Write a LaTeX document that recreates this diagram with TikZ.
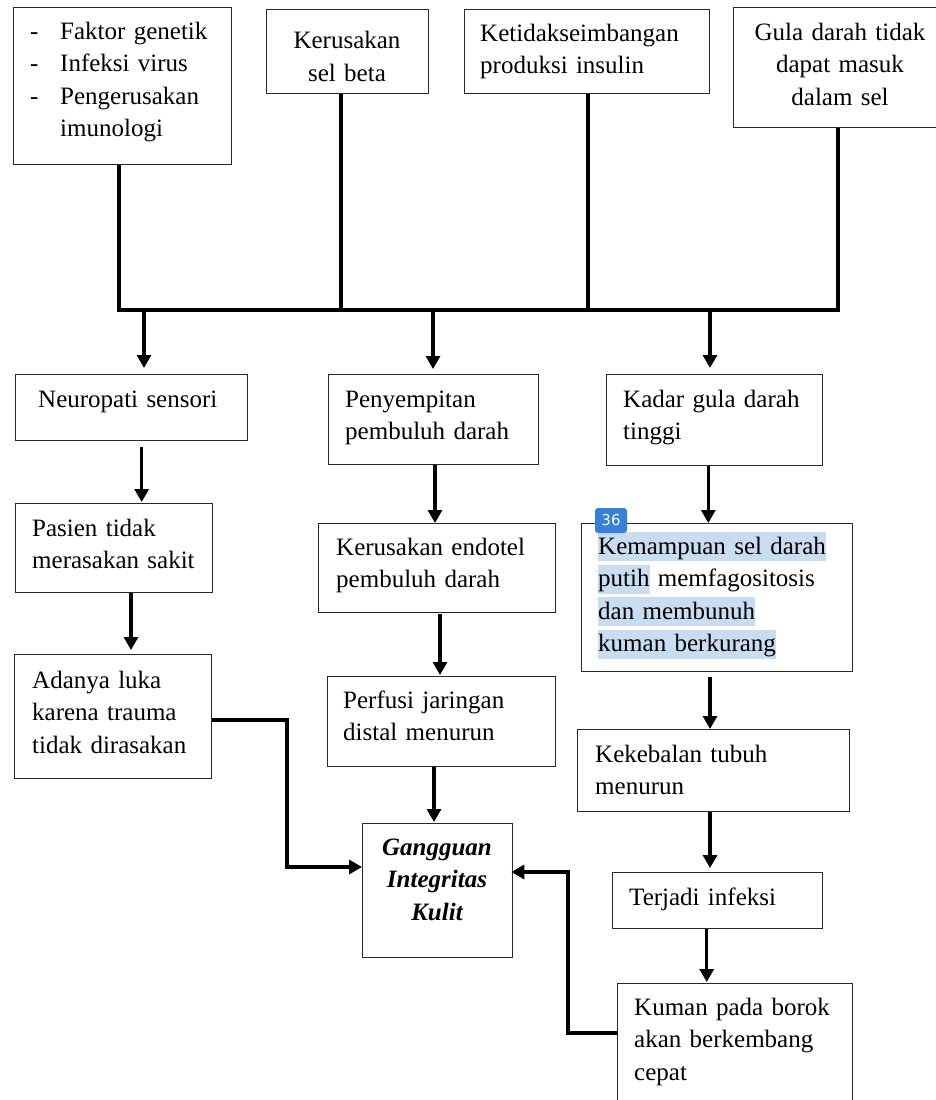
\documentclass[tikz,border=0pt]{standalone}
\usepackage{fontspec}
\setmainfont{Liberation Serif}
\newfontfamily\badgefont{DejaVu Sans}
\usetikzlibrary{arrows.meta,calc}
\definecolor{hl}{RGB}{200,221,242}
\definecolor{badgeblue}{RGB}{52,128,219}
\definecolor{boxline}{RGB}{40,40,40}
\newcommand\dgfont{\fontsize{25pt}{32.5pt}\selectfont}
\newcommand\hlb[1]{{\setlength\fboxsep{0pt}\colorbox{hl}{\rule[-7pt]{0pt}{29pt}#1}}}
\begin{document}
\begin{tikzpicture}[x=1pt,y=-1pt,
  box/.style={draw=boxline, line width=1.3pt, inner sep=0pt, anchor=north west},
  ltxt/.style={font=\dgfont, inner sep=0pt, anchor=base west, text width=280pt, align=left},
  ctxt/.style={font=\dgfont, inner sep=0pt, anchor=base, text width=220pt, align=center},
  conn/.style={line width=3.1pt, black},
  arr/.style={conn, -{Triangle[length=13pt,width=14pt]}},
  badge/.style={fill=badgeblue, rounded corners=3pt, minimum width=32pt, minimum height=25pt, inner sep=0pt, text=white, font=\badgefont\fontsize{15pt}{18pt}\selectfont}]
\fill[white] (0,0) rectangle (935,1100);
\useasboundingbox (0,0) rectangle (935,1100);

% ---------- boxes ----------
\node[box, minimum width=218pt, minimum height=157pt] (b1) at (13,7) {};
\node[box, minimum width=162pt, minimum height=84pt] (b2) at (266,9) {};
\node[box, minimum width=245pt, minimum height=84pt] (b3) at (464,9) {};
\node[box, minimum width=210pt, minimum height=120pt] (b4) at (733,7) {};

\node[box, minimum width=232pt, minimum height=66pt] (n1) at (15,374) {};
\node[box, minimum width=210pt, minimum height=90pt] (n2) at (328,374) {};
\node[box, minimum width=216pt, minimum height=91pt] (n3) at (606,374) {};

\node[box, minimum width=197pt, minimum height=89pt] (n1b) at (15,503) {};
\node[box, minimum width=197pt, minimum height=124pt] (n1c) at (14,654) {};

\node[box, minimum width=237pt, minimum height=89pt] (endo) at (318,523) {};
\node[box, minimum width=228pt, minimum height=90pt] (perf) at (327,676) {};
\node[box, minimum width=150pt, minimum height=134pt] (g) at (362,823) {};

\node[box, minimum width=271pt, minimum height=148pt] (kem) at (581,523) {};
\node[box, minimum width=272pt, minimum height=82pt] (kek) at (577,729) {};
\node[box, minimum width=210pt, minimum height=56pt] (ter) at (612,872) {};
\node[box, minimum width=235pt, minimum height=137pt] (kum) at (617,983) {};

% ---------- texts ----------
\node[ltxt] (tb1) at (30,39) {\makebox[30pt][l]{-}Faktor genetik\\\makebox[30pt][l]{-}Infeksi virus\\\makebox[30pt][l]{-}Pengerusakan\\\hspace*{30pt}imunologi};
\node[ctxt] (tb2) at (347,48.5) {Kerusakan\\sel beta};
\node[ltxt] (tb3) at (480,41) {Ketidakseimbangan\\produksi insulin};
\node[ctxt] (tb4) at (840,40) {Gula darah tidak\\dapat masuk\\dalam sel};

\node[ltxt] (tn1) at (38,407) {Neuropati sensori};
\node[ltxt] (tn2) at (345,407) {Penyempitan\\pembuluh darah};
\node[ltxt] (tn3) at (623,407) {Kadar gula darah\\tinggi};

\node[ltxt] (tn1b) at (32,536) {Pasien tidak\\merasakan sakit};
\node[ltxt] (tn1c) at (32,688) {Adanya luka\\karena trauma\\tidak dirasakan};

\node[ltxt] (tendo) at (336,555) {Kerusakan endotel\\pembuluh darah};
\node[ltxt] (tperf) at (343,708) {Perfusi jaringan\\distal menurun};
\node[ctxt] (tg) at (437,855) {\bfseries\itshape Gangguan\\Integritas\\Kulit};

\node[ltxt] (tkem) at (598,554) {\hlb{Kemampuan sel darah}\\\hlb{putih} memfagositosis\\\hlb{dan membunuh}\\\hlb{kuman berkurang}};
\node[ltxt] (tkek) at (595,762) {Kekebalan tubuh\\menurun};
\node[ltxt] (tter) at (629,905) {Terjadi infeksi};
\node[ltxt] (tkum) at (634,1015) {Kuman pada borok\\akan berkembang\\cepat};

\node[badge] (bdg) at (611,520.5) {36};

% ---------- bus ----------
\coordinate (busL) at (119,310);
\coordinate (busR) at (838,310);
\coordinate (v2) at (341,310);
\coordinate (v3) at (588,310);
\draw[conn] (b1.south -| busL) -- (busL) -- (busR) -- (b4.south -| busR);
\draw[conn] (b2.south -| v2) -- (v2);
\draw[conn] (b3.south -| v3) -- (v3);

\coordinate (d1) at (144,310);
\coordinate (d2) at (433,310);
\coordinate (d3) at (710,310);
\draw[arr, shorten >=6pt] (d1) -- (d1 |- n1.north);
\draw[arr, shorten >=5pt] (d2) -- (d2 |- n2.north);
\draw[arr, shorten >=6pt] (d3) -- (d3 |- n3.north);

% ---------- vertical arrows ----------
\coordinate (xa1) at (141.7,0);
\coordinate (xa2) at (131,0);
\coordinate (xa3) at (435,0);
\coordinate (xa4) at (440,0);
\coordinate (xa5) at (434,0);
\coordinate (xa6) at (708.3,0);
\coordinate (xa7) at (710,0);
\coordinate (xa8) at (710,0);
\coordinate (xa9) at (706.7,0);
\draw[arr, shorten <=6pt, shorten >=1pt] (n1.south -| xa1) -- (n1b.north -| xa1);
\draw[arr, shorten >=4pt] (n1b.south -| xa2) -- (n1c.north -| xa2);
\draw[arr] (n2.south -| xa3) -- (endo.north -| xa3);
\draw[arr, shorten <=1pt, shorten >=1pt] (endo.south -| xa4) -- (perf.north -| xa4);
\draw[arr, shorten >=1pt] (perf.south -| xa5) -- (g.north -| xa5);
\draw[arr] (n3.south -| xa6) -- (kem.north -| xa6);
\draw[arr, shorten <=5pt] (kem.south -| xa7) -- (kek.north -| xa7);
\draw[arr, shorten >=4pt] (kek.south -| xa8) -- (ter.north -| xa8);
\draw[arr, shorten >=1pt] (ter.south -| xa9) -- (kum.north -| xa9);

% ---------- elbow arrows into Gangguan ----------
\coordinate (e1) at (287,0);
\coordinate (gy1) at (0,867);
\coordinate (ly) at (0,720);
\draw[arr] (n1c.east |- ly) -- (e1 |- ly) -- (e1 |- gy1) -- (g.west |- gy1);

\coordinate (e2) at (568,0);
\coordinate (gy2) at (0,872);
\coordinate (ky) at (0,1033);
\draw[arr, shorten >=-2pt] (kum.west |- ky) -- (e2 |- ky) -- (e2 |- gy2) -- (g.east |- gy2);
\end{tikzpicture}
\end{document}
